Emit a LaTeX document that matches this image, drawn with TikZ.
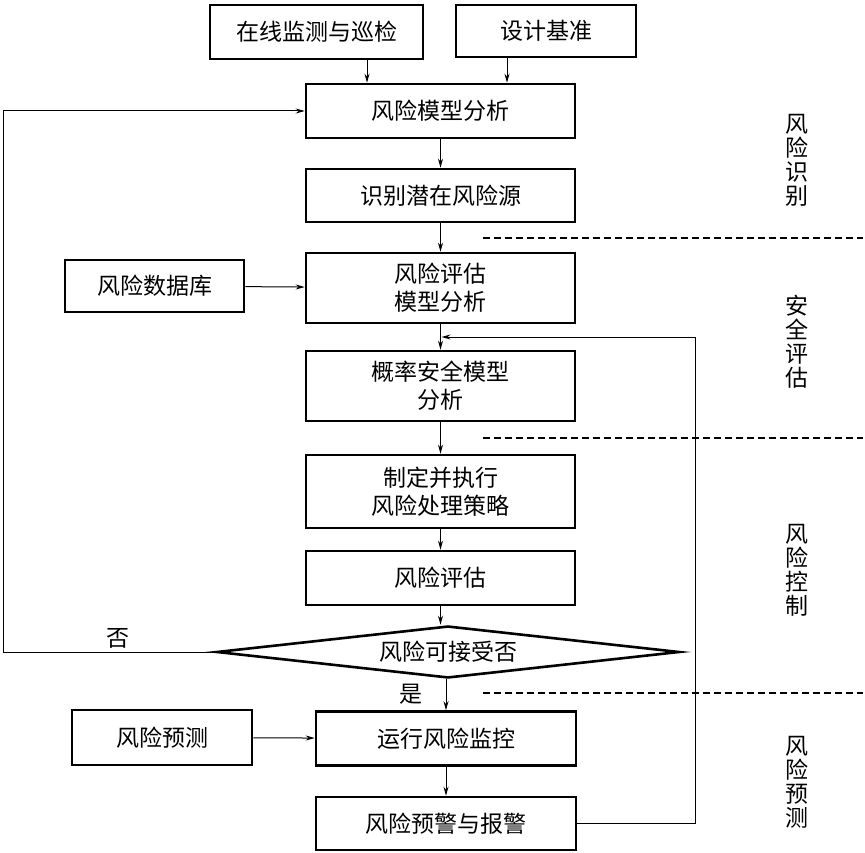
\documentclass[tikz,border=0pt]{standalone}
\usepackage{fontspec}
\setmainfont{Noto Sans CJK SC}
\usetikzlibrary{arrows.meta,shapes.geometric}
\begin{document}
\begin{tikzpicture}[x=1pt,y=-1pt,
  box/.style={draw, line width=2.6pt, font=\fontsize{23}{28}\selectfont, align=center, inner sep=0pt},
  conn/.style={line width=1pt,-{Stealth[length=9pt,width=5pt]}},
  sepline/.style={line width=1.2pt, dash pattern=on 7pt off 4pt},
  lbl/.style={font=\fontsize{23}{28}\selectfont, inner sep=0pt},
  vlbl/.style={font=\fontsize{23}{24}\selectfont, align=center, inner sep=0pt}]
\useasboundingbox (0,0) rectangle (865,853);
% boxes
\node[box, minimum width=213pt, minimum height=54pt] (mon) at (316.5,32) {在线监测与巡检};
\node[box, minimum width=180pt, minimum height=52pt] (std) at (546,31) {设计基准};
\node[box, minimum width=269pt, minimum height=54pt] (model) at (440.5,111) {风险模型分析};
\node[box, minimum width=269pt, minimum height=53pt] (ident) at (440.5,195.5) {识别潜在风险源};
\node[box, minimum width=269pt, minimum height=70pt] (assm) at (440.5,288) {风险评估\\模型分析};
\node[box, minimum width=179pt, minimum height=52pt] (db) at (154.5,286) {风险数据库};
\node[box, minimum width=269pt, minimum height=70pt] (prob) at (440.5,386) {概率安全模型\\分析};
\node[box, minimum width=269pt, minimum height=73pt] (strat) at (440.5,491.5) {制定并执行\\风险处理策略};
\node[box, minimum width=269pt, minimum height=54pt] (eval) at (440.5,578) {风险评估};
\node[box, shape=diamond, aspect=8.8, minimum width=463pt, minimum height=52pt] (acc) at (448,652) {风险可接受否};
\node[box, minimum width=260pt, minimum height=54pt] (run) at (446,738.5) {运行风险监控};
\node[box, minimum width=180pt, minimum height=55pt] (pred) at (162,737.5) {风险预测};
\node[box, minimum width=260pt, minimum height=53pt] (warn) at (446,823.5) {风险预警与报警};
% labels
\node[lbl] (no) at (118,638) {否};
\node[lbl] (yes) at (411,694) {是};
\node[vlbl] (l1) at (797,160) {风\\险\\识\\别};
\node[vlbl] (l2) at (797,342) {安\\全\\评\\估};
\node[vlbl] (l3) at (797,570) {风\\险\\控\\制};
\node[vlbl] (l4) at (797,782) {风\\险\\预\\测};
% connectors
\draw[conn] (mon.south -| 367,0) -- (model.north -| 367,0);
\draw[conn] (std.south -| 507,0) -- (model.north -| 507,0);
\draw[conn] (model) -- (ident);
\draw[conn] (ident) -- (assm);
\draw[conn] (db) -- (assm);
\draw[conn] (assm) -- (prob);
\draw[conn] (prob) -- (strat);
\draw[conn] (strat) -- (eval);
\draw[conn] (eval.south) -- (eval.south |- acc.north);
\draw[conn] (acc.south -| run.north) -- (run.north);
\draw[conn] (pred) -- (run);
\draw[conn] (run) -- (warn);
\coordinate (lft) at (3,111);
\draw[conn] (acc.west) -| (lft) -- (model.west);
\coordinate (rt) at (695,337);
\coordinate (mid) at (441.5,337);
\draw[conn] (warn.east) -| (rt) -- (mid);
% separators
\coordinate (s1a) at (483,238); \coordinate (s1b) at (863,238);
\coordinate (s2a) at (483,438); \coordinate (s2b) at (863,438);
\coordinate (s3a) at (483,693); \coordinate (s3b) at (863,693);
\draw[sepline] (s1a) -- (s1b);
\draw[sepline] (s2a) -- (s2b);
\draw[sepline] (s3a) -- (s3b);
\end{tikzpicture}
\end{document}
